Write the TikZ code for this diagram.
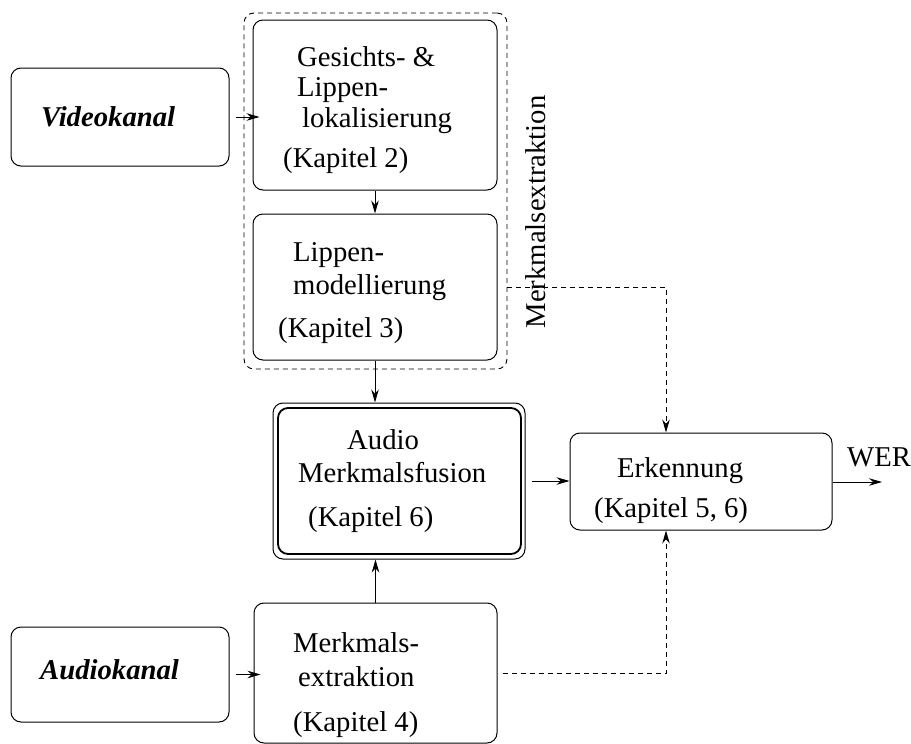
\documentclass[tikz,border=0pt]{standalone}
\usepackage{fontspec}
\setmainfont{Liberation Serif}
\usetikzlibrary{arrows.meta}
\begin{document}
\begin{tikzpicture}[x=1pt,y=-1pt,
  box/.style={draw,line width=1pt,rounded corners=10pt,inner sep=0pt},
  txt/.style={anchor=west,inner sep=0pt,yshift=-7pt,text height=0.7em,text depth=0.2em,font=\fontsize{28.7}{34}\selectfont},
  conn/.style={line width=0.9pt,-{Stealth[length=13pt,width=7.5pt]}},
  dconn/.style={line width=0.9pt,dash pattern=on 5pt off 4pt,-{Stealth[length=13pt,width=7.5pt]}}]
\useasboundingbox (0,0) rectangle (911,744);
% boxes
\node[box,minimum width=218pt,minimum height=98pt] (video) at (120,117) {};
\node[box,minimum width=244pt,minimum height=170pt] (gesichts) at (375,105) {};
\node[box,minimum width=244pt,minimum height=146pt] (lippen) at (375,287) {};
\node[draw,line width=0.9pt,dash pattern=on 5pt off 4pt,rounded corners=10pt,inner sep=0pt,minimum width=263pt,minimum height=356pt] (extraktion) at (375.5,191) {};
\node[box,minimum width=252pt,minimum height=156pt] (fusionouter) at (399,481) {};
\node[box,line width=1.8pt,minimum width=243pt,minimum height=146pt] (fusion) at (399.5,481) {};
\node[box,minimum width=262pt,minimum height=97pt] (erkennung) at (701,481.5) {};
\node[box,minimum width=218pt,minimum height=95pt] (audio) at (120,674.5) {};
\node[box,minimum width=243pt,minimum height=140pt] (merkmals) at (375.5,673) {};
% texts
\node[txt] (vt) at (41,117) {\textbf{\textit{Videokanal}}};
\node[txt] (at) at (40,670) {\textbf{\textit{Audiokanal}}};
\node[txt] (g1) at (297,57) {Gesichts- \&};
\node[txt] (g2) at (297,87) {Lippen-};
\node[txt] (g3) at (302,118) {lokalisierung};
\node[txt] (g4) at (283,158) {(Kapitel 2)};
\node[txt] (l1) at (293,252) {Lippen-};
\node[txt] (l2) at (293,285) {modellierung};
\node[txt] (l3) at (278,328) {(Kapitel 3)};
\node[txt] (f1) at (347,440) {Audio};
\node[txt] (f2) at (298,473) {Merkmalsfusion};
\node[txt] (f3) at (308,517) {(Kapitel 6)};
\node[txt] (e1) at (617,468) {Erkennung};
\node[txt] (e2) at (594,508) {(Kapitel 5, 6)};
\node[txt] (m1) at (293,643) {Merkmals-};
\node[txt] (m2) at (298,677) {extraktion};
\node[txt] (m3) at (293,722) {(Kapitel 4)};
\node[txt] (wer) at (847,457) {WER};
\node[inner sep=0pt,rotate=90,text height=0.7em,text depth=0.2em,font=\fontsize{28.7}{34}\selectfont] (extlabel) at (543,212) {Merkmalsextraktion};
% connectors
\coordinate (ein) at (666,0);
\coordinate (werend) at (882,482);
\draw[conn,shorten <=6pt,shorten >=-7pt] (video.east) -- (video.east -| gesichts.west);
\draw[conn] (gesichts.south) -- (lippen.north);
\draw[conn] (lippen.south) -- (lippen.south |- fusionouter.north);
\draw[conn] (merkmals.north) -- (merkmals.north |- fusionouter.south);
\draw[conn,shorten <=6pt] (fusionouter.east) -- (fusionouter.east -| erkennung.west);
\draw[conn] (erkennung.east |- werend) -- (werend);
\draw[conn,shorten <=6pt,shorten >=-7pt] (audio.east) -- (audio.east -| merkmals.west);
\draw[dconn] (extraktion.east |- lippen.center) -| (ein |- erkennung.north);
\draw[dconn,shorten <=5pt] (merkmals.east) -| (ein |- erkennung.south);
\end{tikzpicture}
\end{document}
